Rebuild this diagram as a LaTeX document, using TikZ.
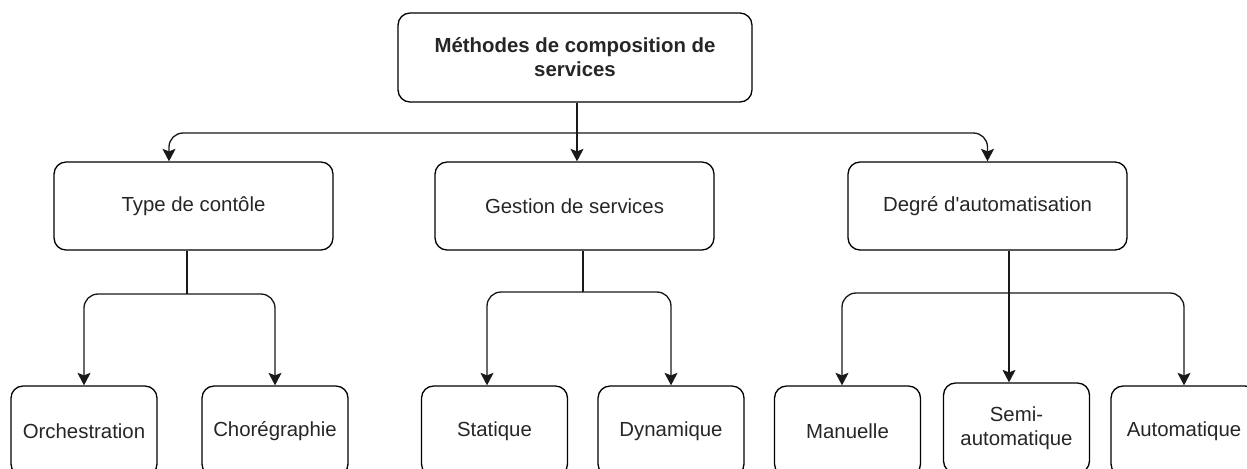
\documentclass[tikz,border=0pt]{standalone}
\usepackage{fontspec}
\setmainfont{Liberation Sans}
\usetikzlibrary{arrows.meta,calc}

\tikzset{
  txt/.style={font=\fontsize{11.6pt}{13.6pt}\selectfont, text=black!85},
  titlebox/.style={txt, draw, rounded corners=0.24cm, line width=0.75pt, align=center, minimum width=7.08cm, minimum height=1.78cm, inner sep=0pt, font=\fontsize{11.6pt}{13.6pt}\selectfont\bfseries},
  box/.style={txt, draw, rounded corners=0.24cm, line width=0.75pt, align=center, minimum width=5.58cm, minimum height=1.76cm, inner sep=0pt},
  leaf/.style={txt, draw, rounded corners=0.24cm, line width=0.75pt, align=center, minimum width=2.92cm, minimum height=1.8cm, inner sep=0pt},
  link/.style={line width=0.75pt, black!90},
  arr/.style={link, -{Stealth[length=0.25cm, width=0.26cm, inset=0.05cm]}}
}

\begin{document}
\begin{tikzpicture}[x=0.02cm, y=-0.02cm]

  \useasboundingbox (0,0) rectangle (1247,468);

  % Root of the tree
  \node[titlebox] (top) at (575,57.5) {Méthodes de composition de\\services};

  % Second level
  \node[box] (type) at (193.5,206) {Type de contôle};
  \node[box] (gestion) at (574.5,206) {Gestion de services};
  \node[box] (degre) at (987.5,206) {Degré d\textquotesingle automatisation};

  % Leaves
  \node[leaf] (orch) at (84,431) {Orchestration};
  \node[leaf] (chor) at (275,431) {Chorégraphie};
  \node[leaf] (stat) at (494.5,431) {Statique};
  \node[leaf] (dyn) at (671,431) {Dynamique};
  \node[leaf] (man) at (847.5,431) {Manuelle};
  \node[leaf] (semi) at (1016.5,428) {Semi-\\automatique};
  \node[leaf] (auto) at (1184,431) {Automatique};

  % Junction points of the branches
  \coordinate (jtop) at (577,133);
  \coordinate (jtype) at (187,294);
  \coordinate (jgest) at (583,292);
  \coordinate (jdeg) at (1009,293);

  % Root to second level
  \draw[arr] (top.south -| jtop) -- (jtop) -- (gestion.north -| jtop);
  \draw[arr, rounded corners=8] (jtop) -| ($(type.north)+(-24.5,0)$);
  \draw[arr, rounded corners=8] (jtop) -| (degre.north);

  % Type de contole to its leaves
  \draw[link] (type.south -| jtype) -- (jtype);
  \draw[arr, rounded corners=8] (jtype) -| (orch.north);
  \draw[arr, rounded corners=8] (jtype) -| (chor.north);

  % Gestion de services to its leaves
  \draw[link] (gestion.south -| jgest) -- (jgest);
  \draw[arr, rounded corners=8] (jgest) -| ($(stat.north)+(-7.5,0)$);
  \draw[arr, rounded corners=8] (jgest) -| (dyn.north);

  % Degre d'automatisation to its leaves
  \draw[arr] (degre.south -| jdeg) -- (semi.north -| jdeg);
  \draw[arr, rounded corners=8] (jdeg) -| ($(man.north)+(-5.5,0)$);
  \draw[arr, rounded corners=8] (jdeg) -| (auto.north);

\end{tikzpicture}
\end{document}
